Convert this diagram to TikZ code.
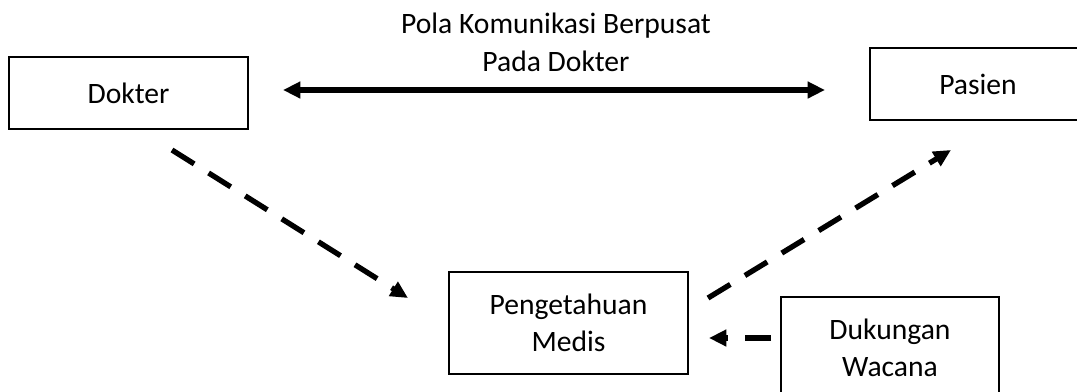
\documentclass[tikz,border=0pt]{standalone}
\usepackage{fontspec}
\setmainfont{Carlito}
\usetikzlibrary{arrows.meta}
\begin{document}
\begin{tikzpicture}[x=0.375pt,y=-0.375pt,
  box/.style={draw=black,line width=0.8pt,inner sep=0pt,align=center,
    font=\fontsize{11.1}{14}\selectfont},
  boxline/.style={draw=black,line width=0.8pt},
  conn/.style={line width=2pt,-{Triangle[length=6.5pt,width=6pt]}},
  dashconn/.style={conn,dash pattern=on 9.8pt off 6.4pt}]
\useasboundingbox (0,0) rectangle (1077,391);
\begin{scope}
\clip (0,0) rectangle (1077,391);
\node[box,minimum width=239*0.375pt,minimum height=72*0.375pt] (dokter) at (128.5,93) {Dokter};
\node[box,minimum width=216*0.375pt,minimum height=72*0.375pt] (pasien) at (978,84) {Pasien};
\node[box,minimum width=239*0.375pt,minimum height=102*0.375pt] (medis) at (568.5,323) {Pengetahuan\\Medis};
\node[box,draw=none,minimum width=216*0.375pt,minimum height=100*0.375pt] (wacana) at (890,348) {Dukungan\\Wacana};
\draw[boxline] (wacana.north west) ++(0,130) -- (wacana.north west) -- (wacana.north east) -- ++(0,130);
\end{scope}
\node[inner sep=0pt,align=center,font=\fontsize{11.1}{14.2}\selectfont] (title) at (556,42) {Pola Komunikasi Berpusat\\Pada Dokter};
\coordinate (a1) at (283,90);
\coordinate (a2) at (825,90);
\coordinate (b1) at (172,150);
\coordinate (b2) at (408,298);
\coordinate (c1) at (708,298);
\coordinate (c2) at (951,150);
\coordinate (d1) at (771,338);
\coordinate (d2) at (709,338);
\draw[conn,{Triangle[length=6.5pt,width=6pt]}-{Triangle[length=6.5pt,width=6pt]}] (a1) -- (a2);
\draw[dashconn] (b1) -- (b2);
\draw[dashconn] (c1) -- (c2);
\draw[dashconn] (d1) -- (d2);
\end{tikzpicture}
\end{document}
